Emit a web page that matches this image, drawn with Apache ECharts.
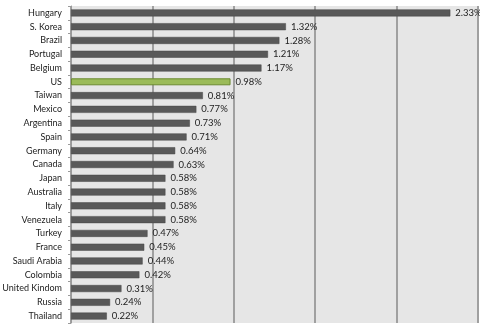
<!DOCTYPE html>
<html>
<head>
<meta charset="utf-8">
<script src="https://cdn.jsdelivr.net/npm/echarts@6/dist/echarts.min.js"></script>
<style>
  html, body { margin: 0; padding: 0; background: #fff; }
  #chart { width: 480px; height: 324px; }
</style>
</head>
<body>
<div id="chart"></div>
<script>
// Countries, top to bottom
const countries = [
  'Hungary', 'S. Korea', 'Brazil', 'Portugal', 'Belgium', 'US', 'Taiwan',
  'Mexico', 'Argentina', 'Spain', 'Germany', 'Canada', 'Japan', 'Australia',
  'Italy', 'Venezuela', 'Turkey', 'France', 'Saudi Arabia', 'Colombia',
  'United Kindom', 'Russia', 'Thailand'
];
// Percentage values for each country
const shares = [
  2.33, 1.32, 1.28, 1.21, 1.17, 0.98, 0.81,
  0.77, 0.73, 0.71, 0.64, 0.63, 0.58, 0.58,
  0.58, 0.58, 0.47, 0.45, 0.44, 0.42,
  0.31, 0.24, 0.22
];
const highlighted = 'US';

const FONT = 'Lato';
const chart = echarts.init(document.getElementById('chart'));

// category axis runs bottom-to-top, so reverse for top-down order
const cats = countries.slice().reverse();
const vals = shares.slice().reverse();

chart.setOption({
  animation: false,
  grid: {
    left: 71, right: 2, top: 6, bottom: 1,
    outerBoundsMode: 'none', containLabel: false,
    show: true, backgroundColor: '#e6e6e6', borderWidth: 0
  },
  xAxis: {
    type: 'value', min: 0, max: 2.5, interval: 0.5,
    axisLabel: { show: false },
    axisLine: { show: false },
    axisTick: { show: false },
    splitLine: { show: true, lineStyle: { color: '#a0a0a0', width: 2 } }
  },
  yAxis: {
    type: 'category',
    data: cats,
    axisLine: { show: true, lineStyle: { color: '#9a9a9a', width: 1 } },
    axisTick: { show: true, length: 3, lineStyle: { color: '#9a9a9a' } },
    axisLabel: {
      color: '#222', fontFamily: FONT, fontSize: 9, margin: 9, interval: 0
    }
  },
  series: [{
    type: 'bar',
    barWidth: 7,
    data: vals.map((v, i) => ({
      value: v,
      itemStyle: cats[i] === highlighted
        ? { color: '#9bbb59', borderColor: '#6b8a30', borderWidth: 1 }
        : { color: '#595959', borderColor: '#474747', borderWidth: 0.5 }
    })),
    label: {
      show: true, position: 'right', distance: 5,
      color: '#222', fontFamily: FONT, fontSize: 9.5,
      formatter: p => p.value.toFixed(2) + '%'
    }
  }]
});
</script>
</body>
</html>
